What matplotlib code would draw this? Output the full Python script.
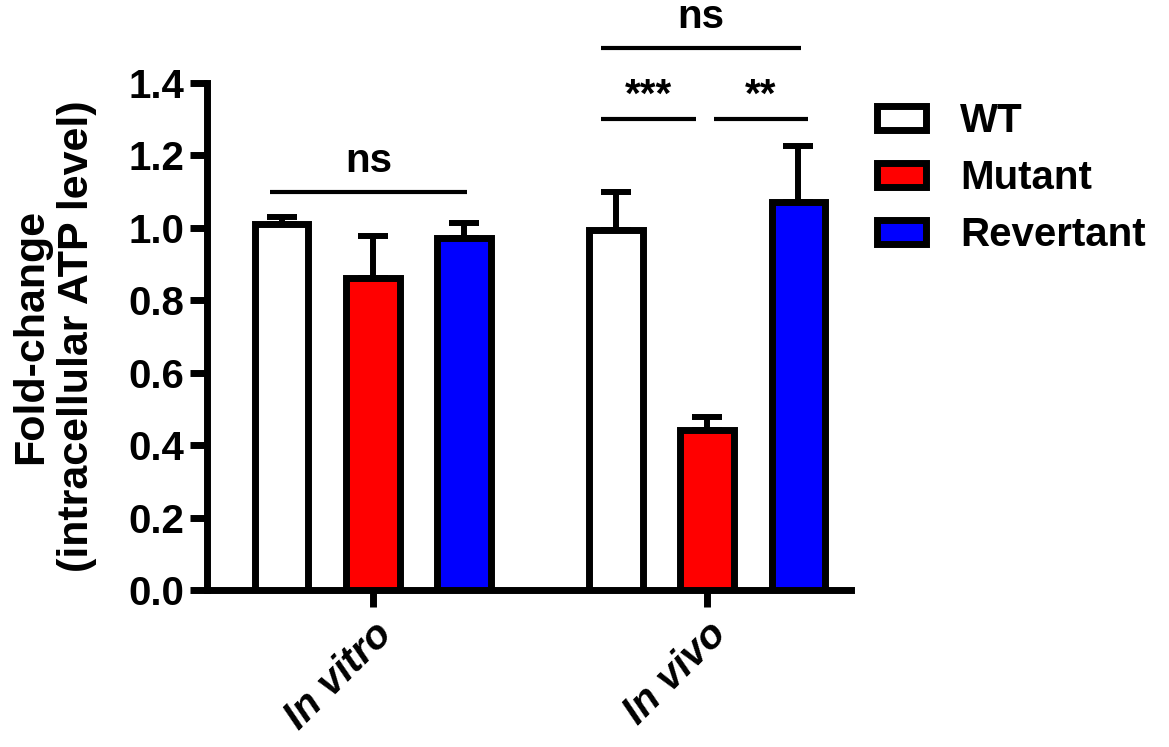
import matplotlib
matplotlib.use("Agg")
import matplotlib.pyplot as plt
import numpy as np
from matplotlib.patches import Patch

plt.rcParams['font.family'] = ['Liberation Sans', 'DejaVu Sans']
plt.rcParams['font.weight'] = 'bold'

groups = ["In vitro", "In vivo"]
series = ["WT", "Mutant", "Revertant"]
colors = ["#ffffff", "#ff0000", "#0000ff"]
wt_mean = [1.01, 0.994]
mutant_mean = [0.862, 0.443]
revertant_mean = [0.972, 1.072]
wt_sem = [0.02, 0.104]
mutant_sem = [0.115, 0.035]
revertant_sem = [0.04, 0.155]
yticks = [0.0, 0.2, 0.4, 0.6, 0.8, 1.0, 1.2, 1.4]
ylabel = "Fold-change\n(intracellular ATP level)"
# significance brackets: (group index, bar i, bar j, height, label)
brackets = [
    (0, 0, 2, 1.10, "ns"),
    (1, 0, 1, 1.30, "***"),
    (1, 1, 2, 1.30, "**"),
    (1, 0, 2, 1.497, "ns"),
]

means = [wt_mean, mutant_mean, revertant_mean]
sems = [wt_sem, mutant_sem, revertant_sem]
FS = 29

fig = plt.figure(figsize=(11.69, 7.47), dpi=100)
ax = fig.add_axes([0.177, 0.210, 0.551, 0.679])

x = np.arange(len(groups))
step = 0.2725
width = 0.159
lw = 5.0
for k in range(3):
    pos = x + (k - 1) * step
    ax.errorbar(pos, means[k], yerr=[np.zeros(len(groups)), sems[k]], fmt='none',
                ecolor='black', elinewidth=4.3, capsize=10.5, capthick=4.3, zorder=2)
    ax.bar(pos, means[k], width=width, color=colors[k], edgecolor='black',
           linewidth=lw, zorder=3)

ax.set_xlim(-0.497, 1.431)
ax.set_ylim(0, 1.4)
ax.set_yticks(yticks)
ax.set_yticklabels([f"{v:.1f}" for v in yticks])
ax.set_xticks(x)
ax.set_xticklabels(groups, rotation=45, ha='right', rotation_mode='anchor',
                   style='italic', fontweight='bold')
ax.tick_params(axis='both', width=lw, length=12, labelsize=FS)
ax.tick_params(axis='x', pad=6)
ax.tick_params(axis='y', pad=4)
for s in ['top', 'right']:
    ax.spines[s].set_visible(False)
for s in ['left', 'bottom']:
    ax.spines[s].set_linewidth(lw)
ax.spines['left'].set_capstyle('projecting')
ax.set_ylabel(ylabel, fontsize=31, fontweight='bold', labelpad=23, linespacing=1.2)

gap = {"***": (-0.045, -0.033), "**": (0.02, 0.03), "ns": (-0.035, 0.01)}
txt_off = {"***": 0.035, "**": 0.035, "ns": 0.055}
for g, i, j, h, lab in brackets:
    x1 = x[g] + (i - 1) * step + gap[lab][0]
    x2 = x[g] + (j - 1) * step + gap[lab][1]
    if lab == "ns" and g == 1:
        x1 = x[g] + (i - 1) * step - 0.045
    ax.plot([x1, x2], [h, h], color='black', lw=3.0, clip_on=False, solid_capstyle='butt')
    ax.text((x1 + x2) / 2, h + txt_off[lab], lab, ha='center', va='baseline', fontsize=FS,
            fontweight='bold', clip_on=False)

handles = [Patch(facecolor=c, edgecolor='black', linewidth=lw) for c in colors]
fig.legend(handles, series, loc='upper left', bbox_to_anchor=(0.733, 0.890),
           frameon=False, handlelength=1.22, handleheight=0.55, borderpad=0,
           handletextpad=0.85, labelspacing=0.47, prop={'weight': 'bold', 'size': FS})

fig.savefig("out.png", dpi=100)
